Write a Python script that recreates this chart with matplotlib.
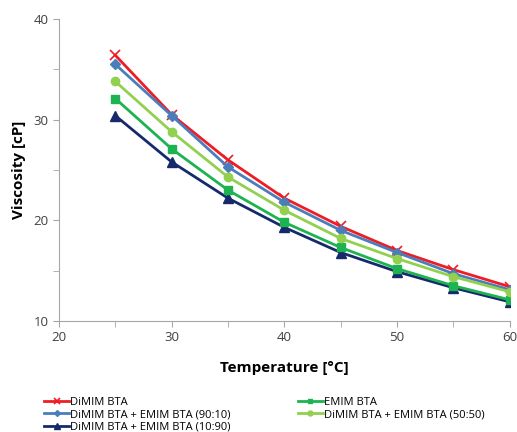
import matplotlib.pyplot as plt
from matplotlib.ticker import MultipleLocator

# Temperatures and viscosities
temperature = [25, 30, 35, 40, 45, 50, 55, 60]
dimim = [36.4, 30.5, 26.0, 22.2, 19.4, 17.0, 15.1, 13.4]
mix_90_10 = [35.5, 30.4, 25.3, 21.8, 19.0, 16.8, 14.7, 13.1]
mix_50_50 = [33.8, 28.8, 24.3, 21.0, 18.2, 16.2, 14.4, 12.9]
emim = [32.1, 27.1, 23.0, 19.8, 17.3, 15.2, 13.5, 12.1]
mix_10_90 = [30.4, 25.8, 22.2, 19.3, 16.8, 14.9, 13.3, 11.9]

plt.rcParams['font.family'] = ['Open Sans', 'DejaVu Sans']

fig = plt.figure(figsize=(5.17, 4.32), dpi=100)
ax = fig.add_axes([0.114, 0.257, 0.872, 0.699])

l1, = ax.plot(temperature, dimim, color='#ee1c25', marker='x', markersize=7, lw=2, mew=1.2, label='DiMIM BTA')
l2, = ax.plot(temperature, mix_90_10, color='#4a7ebb', marker='D', markersize=5, lw=2, label='DiMIM BTA + EMIM BTA (90:10)')
l3, = ax.plot(temperature, mix_10_90, color='#162a6b', marker='^', markersize=7, lw=2, label='DiMIM BTA + EMIM BTA (10:90)')
l4, = ax.plot(temperature, emim, color='#1db350', marker='s', markersize=6, lw=2, label='EMIM BTA')
l5, = ax.plot(temperature, mix_50_50, color='#92d050', marker='o', markersize=6, lw=2, label='DiMIM BTA + EMIM BTA (50:50)')

ax.set_xlim(20, 60)
ax.set_ylim(10, 40)
ax.xaxis.set_major_locator(MultipleLocator(10))
ax.xaxis.set_minor_locator(MultipleLocator(5))
ax.yaxis.set_major_locator(MultipleLocator(10))
ax.yaxis.set_minor_locator(MultipleLocator(5))

for s in ['top', 'right']:
    ax.spines[s].set_visible(False)
for s in ['left', 'bottom']:
    ax.spines[s].set_color('#a6a6a6')
ax.tick_params(which='both', direction='out', color='#a6a6a6', labelcolor='#404040', labelsize=9.5)
ax.tick_params(which='major', length=4)
ax.tick_params(which='minor', length=4)

ax.set_xlabel('Temperature [°C]', fontsize=11, fontweight='bold', labelpad=12)
ax.set_ylabel('Viscosity [cP]', fontsize=11, fontweight='bold', labelpad=5)

fig.legend(handles=[l1, l2, l3, l4, l5], ncol=2, loc='upper left',
           bbox_to_anchor=(0.075, 0.095), frameon=False, fontsize=8,
           handlelength=2.2, handletextpad=0.1, columnspacing=6.1,
           labelspacing=0.15, markerscale=0.6, borderpad=0)

plt.savefig('out.png', dpi=100)
